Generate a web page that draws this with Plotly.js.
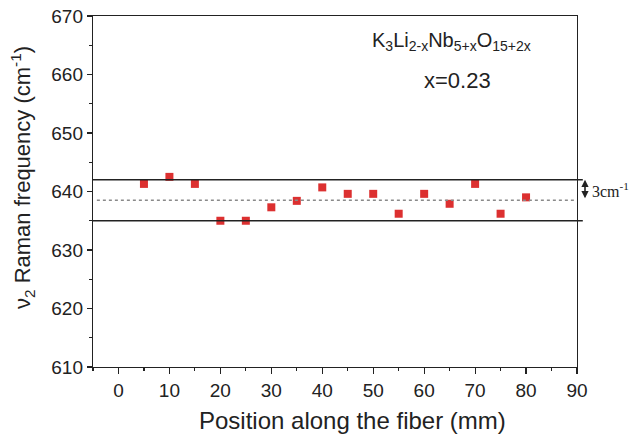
<!DOCTYPE html>
<html><head><meta charset="utf-8">
<script src="https://cdn.plot.ly/plotly-3.0.1.min.js"></script>
<style>html,body{margin:0;padding:0;background:#fff;}#chart{width:631px;height:441px;}</style>
</head><body><div id="chart"></div>
<script>
var positions = [5,10,15,20,25,30,35,40,45,50,55,60,65,70,75,80];
var frequencies = [641.3,642.5,641.3,635.0,635.0,637.3,638.4,640.7,639.6,639.6,636.2,639.6,637.9,641.3,636.2,639.0];
var upperBound = 642.0;
var lowerBound = 635.0;
var meanLevel = 638.5;
var xTicks = [0,10,20,30,40,50,60,70,80,90];
var yTicks = [610,620,630,640,650,660,670];

var trace = {
  x: positions, y: frequencies, type: 'scatter', mode: 'markers',
  marker: {symbol: 'square', size: 8, color: '#dc3030'}, showlegend: false
};
var fam = 'Liberation Sans, Arial, sans-serif';
var ink = '#222';
var L = 93, T = 16, W = 484, H = 351;
function px(x) { return (x - L) / W; }
function py(y) { return 1 - (y - T) / H; }
var layout = {
  width: 631, height: 441,
  margin: {l: 93, r: 54, t: 16, b: 74},
  paper_bgcolor: '#fff', plot_bgcolor: '#fff',
  font: {family: fam, color: ink},
  xaxis: {
    range: [-5, 90], tickvals: xTicks, ticks: 'outside', ticklen: 6, tickwidth: 1.2, tickcolor: ink,
    showgrid: false, zeroline: false, showline: true, linecolor: ink, linewidth: 1.2, mirror: true,
    tickfont: {size: 19, family: fam, color: ink},
    minor: {dtick: 5, ticks: 'outside', ticklen: 3, tickcolor: ink}
  },
  yaxis: {
    range: [610, 670], tickvals: yTicks, ticks: 'outside', ticklen: 5, tickwidth: 1.2, tickcolor: ink,
    showgrid: false, zeroline: false, showline: true, linecolor: ink, linewidth: 1.2, mirror: true,
    tickfont: {size: 19, family: fam, color: ink},
    minor: {dtick: 5, ticks: 'outside', ticklen: 3, tickcolor: ink}
  },
  shapes: [
    {type: 'line', xref: 'paper', yref: 'y', x0: 0, x1: 1.012, y0: upperBound, y1: upperBound, line: {color: ink, width: 1.5}},
    {type: 'line', xref: 'paper', yref: 'y', x0: 0, x1: 1.012, y0: lowerBound, y1: lowerBound, line: {color: ink, width: 1.5}},
    {type: 'line', xref: 'paper', yref: 'y', x0: 0.008, x1: 0.995, y0: meanLevel, y1: meanLevel, line: {color: '#8a8a8a', width: 1.3, dash: 'dot'}}
  ],
  annotations: [
    {xref: 'paper', yref: 'paper', x: px(352), y: py(421), xanchor: 'center', yanchor: 'middle', showarrow: false,
     text: 'Position along the fiber (mm)', font: {size: 24, family: fam, color: ink}},
    {xref: 'paper', yref: 'paper', x: px(22), y: py(178), xanchor: 'center', yanchor: 'middle', showarrow: false, textangle: -90,
     text: 'ν<sub>2</sub> Raman frequency (cm<sup>-1</sup>)', font: {size: 22, family: fam, color: ink}},
    {xref: 'paper', yref: 'y', x: px(585), y: upperBound, ax: 0, ay: 20, axref: 'pixel', ayref: 'pixel',
     showarrow: true, arrowside: 'end+start', arrowhead: 2, startarrowhead: 2, arrowsize: 0.9, startarrowsize: 0.9, arrowwidth: 1.6, arrowcolor: ink, text: ''},
    {xref: 'paper', yref: 'y', x: px(590), y: (upperBound + meanLevel) / 2, xanchor: 'left', yanchor: 'middle', showarrow: false,
     text: '3cm<sup>-1</sup>', font: {family: 'Liberation Serif, Times New Roman, serif', size: 16, color: ink}},
    {xref: 'paper', yref: 'paper', x: px(451), y: py(41), xanchor: 'center', yanchor: 'middle', showarrow: false,
     text: 'K<sub>3</sub>Li<sub>2-x</sub>Nb<sub>5+x</sub>O<sub>15+2x</sub>', font: {size: 20, family: fam, color: ink}},
    {xref: 'paper', yref: 'paper', x: px(457), y: py(81), xanchor: 'center', yanchor: 'middle', showarrow: false,
     text: 'x=0.23', font: {size: 22, family: fam, color: ink}}
  ]
};
Plotly.newPlot('chart', [trace], layout, {displayModeBar: false, staticPlot: true});
</script></body></html>
